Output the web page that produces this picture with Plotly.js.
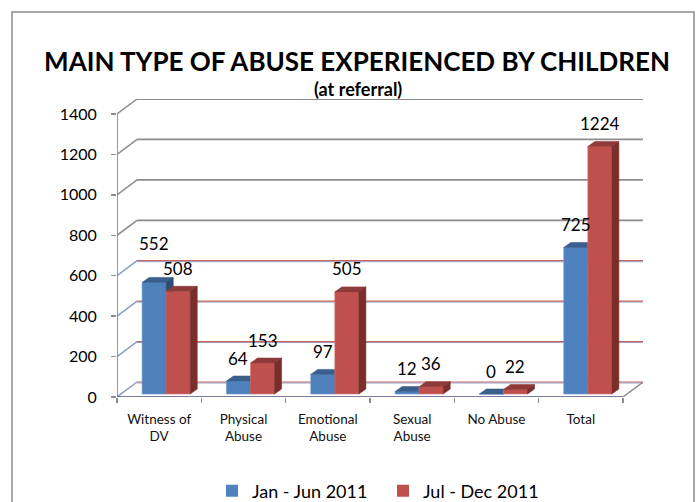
<!DOCTYPE html>
<html>
<head>
<meta charset="utf-8">
<script src="https://cdn.plot.ly/plotly-3.0.1.min.js"></script>
<style>html,body{margin:0;padding:0;background:#fff;}#chart{width:700px;height:502px;}</style>
</head>
<body>
<div id="chart"></div>
<script>
// ---- data ----
const categories = ['Witness of DV', 'Physical Abuse', 'Emotional Abuse', 'Sexual Abuse', 'No Abuse', 'Total'];
const tickLabels = ['Witness of<br>DV', 'Physical<br>Abuse', 'Emotional<br>Abuse', 'Sexual<br>Abuse', 'No Abuse', 'Total'];
const seriesNames = ['Jan - Jun 2011', 'Jul - Dec 2011'];
const janJun = [552, 64, 97, 12, 0, 725];
const julDec = [508, 153, 505, 36, 22, 1224];
const yTickVals = [0, 200, 400, 600, 800, 1000, 1200, 1400];

// ---- geometry (layout only) ----
const L = 117, R = 57, T = 99, B = 105, W = 700, H = 502;
const plotW = W - L - R, plotH = H - T - B;
const nCat = categories.length;
const yMax = 1400;
const pxPerX = (622 - 117) / nCat;
const pxPerY = (397 - 114) / yMax;
const wallDX = 20 / pxPerX, wallDY = 15 / pxPerY;
const xRange = [0, nCat + wallDX], yRange = [0, yMax + wallDY];
const barW = 24 / pxPerX, barCenterOff = 0.583;
const baseY = 3 / pxPerY, barDX = 7 / pxPerX, barDY = 5 / pxPerY;
function pxX(p) { return (p - L) / plotW; }
function pxY(p) { return (H - B - p) / plotH; }

const FONT = 'Lato, "Open Sans", sans-serif';
const colors = {
  blue: {front: '#4f81bd', top: '#3a5f8c', side: '#2c4a72', edge: '#6f98cc'},
  red:  {front: '#c0504d', top: '#8e3a38', side: '#7a2e2c', edge: '#d57572'}
};

function faces(vals, leftOff) {
  const f = {x: [], y: []}, t = {x: [], y: []}, s = {x: [], y: []};
  vals.forEach((v, i) => {
    const x0 = i + barCenterOff + leftOff, x1 = x0 + barW;
    const b = baseY, top = baseY + v;
    f.x.push(x0, x1, x1, x0, x0, null); f.y.push(b, b, top, top, b, null);
    t.x.push(x0, x1, x1 + barDX, x0 + barDX, x0, null); t.y.push(top, top, top + barDY, top + barDY, top, null);
    s.x.push(x1, x1 + barDX, x1 + barDX, x1, x1, null); s.y.push(b, b + barDY, top + barDY, top, b, null);
  });
  return {f, t, s};
}
function poly(p, fill, line) {
  return {type: 'scatter', mode: 'lines', x: p.x, y: p.y, fill: 'toself', fillcolor: fill,
          line: {color: line, width: 0.6}, hoverinfo: 'skip', showlegend: false};
}

const blueF = faces(janJun, -barW), redF = faces(julDec, 0);
const traces = [
  {type: 'bar', name: seriesNames[0], x: [null], y: [null], marker: {color: colors.blue.front}, showlegend: true},
  {type: 'bar', name: seriesNames[1], x: [null], y: [null], yaxis: 'y2', marker: {color: colors.red.front}, showlegend: true},
  poly(blueF.f, colors.blue.front, colors.blue.edge),
  poly(blueF.t, colors.blue.top, colors.blue.top),
  poly(blueF.s, colors.blue.side, colors.blue.side),
  poly(redF.f, colors.red.front, colors.red.edge),
  poly(redF.t, colors.red.top, colors.red.top),
  poly(redF.s, colors.red.side, colors.red.side)
];

// ---- walls & gridlines ----
const shapes = [];
const GRAY = '#8c8c8c';
yTickVals.forEach(v => {
  const low = v <= 600;
  shapes.push({type: 'line', xref: 'x', yref: 'y', x0: 0, y0: v, x1: wallDX, y1: v + wallDY,
               line: {color: low ? '#8c9ac6' : GRAY, width: 1.5}, layer: 'below'});
  if (low) {
    shapes.push({type: 'line', xref: 'x', yref: 'y', x0: wallDX, y0: v + wallDY - 1 / pxPerY, x1: nCat + wallDX, y1: v + wallDY - 1 / pxPerY,
                 line: {color: '#9aa6cf', width: 1}, layer: 'below'});
    shapes.push({type: 'line', xref: 'x', yref: 'y', x0: wallDX, y0: v + wallDY, x1: nCat + wallDX, y1: v + wallDY,
                 line: {color: '#c46562', width: 1.2}, layer: 'below'});
  } else {
    shapes.push({type: 'line', xref: 'x', yref: 'y', x0: wallDX, y0: v + wallDY, x1: nCat + wallDX, y1: v + wallDY,
                 line: {color: GRAY, width: 1.8}, layer: 'below'});
  }
});
shapes.push({type: 'line', xref: 'x', yref: 'y', x0: 0, y0: 0, x1: 0, y1: yMax, line: {color: GRAY, width: 1.8}});
shapes.push({type: 'line', xref: 'x', yref: 'y', x0: 0, y0: 0, x1: nCat, y1: 0, line: {color: '#4b4f86', width: 1.6}});
shapes.push({type: 'line', xref: 'x', yref: 'y', x0: nCat, y0: 0, x1: nCat + wallDX, y1: wallDY, line: {color: GRAY, width: 1.5}});
shapes.push({type: 'rect', xref: 'paper', yref: 'paper', x0: pxX(12), x1: pxX(694), y0: pxY(520), y1: pxY(12),
             line: {color: '#8a8a8a', width: 1.5}, fillcolor: 'rgba(0,0,0,0)'});

// ---- annotations ----
const annotations = [];
function addLabels(vals, leftOff, extra) {
  vals.forEach((v, i) => {
    annotations.push({x: i + barCenterOff + leftOff + barW / 2, y: baseY + v, xref: 'x', yref: 'y',
      text: String(v), showarrow: false, yshift: 23 + (extra[i] || 0),
      font: {family: FONT, size: 17, color: '#000'}});
  });
}
addLabels(janJun, -barW, {0: 16});
addLabels(julDec, 0, {});
annotations.push({xref: 'paper', yref: 'paper', x: pxX(358), y: pxY(89), text: '<b>(at referral)</b>',
  showarrow: false, font: {family: FONT, size: 18, color: '#000'}, xanchor: 'center', yanchor: 'middle'});

const layout = {
  width: W, height: H,
  margin: {l: L, r: R, t: T, b: B, pad: 0, autoexpand: false},
  paper_bgcolor: '#fff', plot_bgcolor: 'rgba(0,0,0,0)',
  title: {text: '<b>MAIN TYPE OF ABUSE EXPERIENCED BY CHILDREN</b>', x: 357 / W, xref: 'container', xanchor: 'center',
          y: 1 - 62 / H, yref: 'container', yanchor: 'middle', font: {family: FONT, size: 26, color: '#000'}},
  xaxis: {range: xRange, tickvals: categories.map((c, i) => i + 0.5), ticktext: tickLabels,
          ticks: '', showgrid: false, zeroline: false, showline: false, fixedrange: true,
          tickfont: {family: FONT, size: 13.5, color: '#111'}, ticklabelstandoff: 12,
          minor: {tick0: 0, dtick: 1, ticks: 'outside', ticklen: 5, tickcolor: GRAY, tickwidth: 1.5, showgrid: false}},
  // labels axis: long transparent ticks push labels away from the front axis
  yaxis: {range: yRange, tickvals: yTickVals, ticks: 'outside', ticklen: 16, tickcolor: 'rgba(0,0,0,0)',
          showgrid: false, zeroline: false, showline: false, fixedrange: true,
          tickfont: {family: FONT, size: 16, color: '#000'}},
  // visible short ticks
  yaxis2: {range: yRange, overlaying: 'y', side: 'left', anchor: 'x', tickvals: yTickVals, ticks: 'outside',
           ticklen: 5, tickcolor: GRAY, tickwidth: 1.5, showticklabels: false,
           showgrid: false, zeroline: false, showline: false, fixedrange: true},
  showlegend: true,
  legend: {orientation: 'h', x: pxX(212), xanchor: 'left', y: pxY(491), yanchor: 'middle',
           font: {family: FONT, size: 18, color: '#000'}, entrywidth: 126, entrywidthmode: 'pixels',
           bgcolor: 'rgba(0,0,0,0)'},
  barmode: 'overlay',
  shapes: shapes,
  annotations: annotations
};

Plotly.newPlot('chart', traces, layout, {displayModeBar: false, staticPlot: true});
</script>
</body>
</html>
